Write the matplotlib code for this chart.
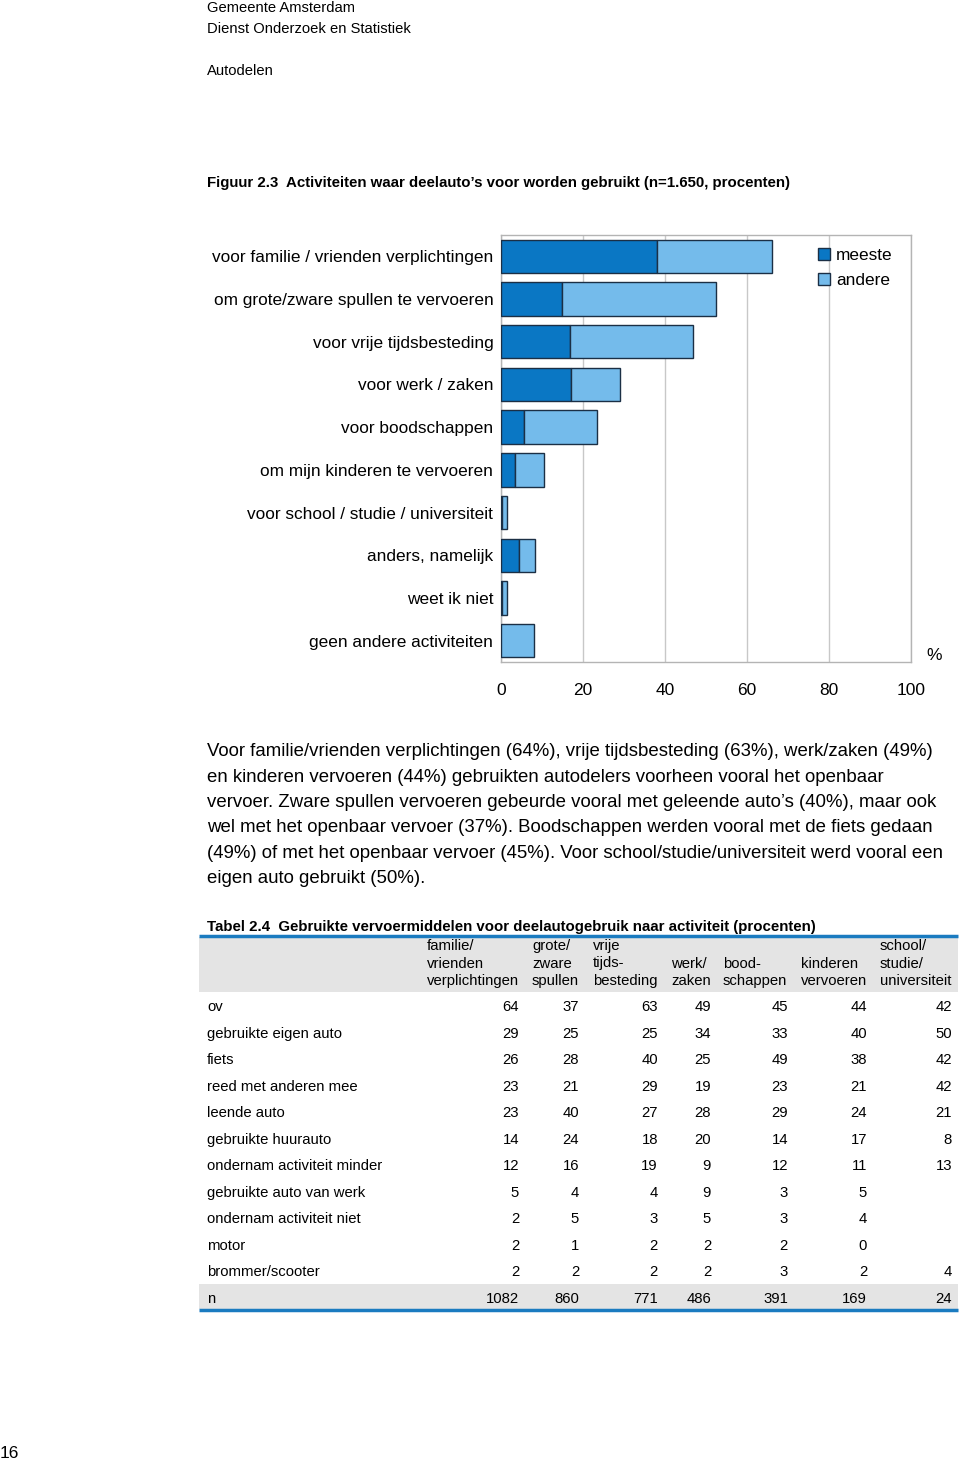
import matplotlib
matplotlib.use("Agg")
import matplotlib.pyplot as plt
from matplotlib.patches import Patch

plt.rcParams['font.family'] = ['Liberation Sans', 'DejaVu Sans']

# --- data figuur 2.3 ---
activiteiten = [
    "voor familie / vrienden verplichtingen",
    "om grote/zware spullen te vervoeren",
    "voor vrije tijdsbesteding",
    "voor werk / zaken",
    "voor boodschappen",
    "om mijn kinderen te vervoeren",
    "voor school / studie / universiteit",
    "anders, namelijk",
    "weet ik niet",
    "geen andere activiteiten",
]
meeste = [38, 14.8, 16.8, 17, 5.5, 3.5, 0.3, 4.3, 0.3, 0]
andere = [28, 37.7, 30, 12, 18, 7, 1.2, 4.1, 1.2, 8]
x_ticks = [0, 20, 40, 60, 80, 100]

# --- data tabel 2.4 ---
kolom_koppen = [
    ["familie/", "vrienden", "verplichtingen"],
    ["grote/", "zware", "spullen"],
    ["vrije", "tijds-", "besteding"],
    ["", "werk/", "zaken"],
    ["", "bood-", "schappen"],
    ["", "kinderen", "vervoeren"],
    ["school/", "studie/", "universiteit"],
]
rij_labels = [
    "ov", "gebruikte eigen auto", "fiets", "reed met anderen mee", "leende auto",
    "gebruikte huurauto", "ondernam activiteit minder", "gebruikte auto van werk",
    "ondernam activiteit niet", "motor", "brommer/scooter", "n",
]
tabel = [
    [64, 37, 63, 49, 45, 44, 42],
    [29, 25, 25, 34, 33, 40, 50],
    [26, 28, 40, 25, 49, 38, 42],
    [23, 21, 29, 19, 23, 21, 42],
    [23, 40, 27, 28, 29, 24, 21],
    [14, 24, 18, 20, 14, 17, 8],
    [12, 16, 19, 9, 12, 11, 13],
    [5, 4, 4, 9, 3, 5, None],
    [2, 5, 3, 5, 3, 4, None],
    [2, 1, 2, 2, 2, 0, None],
    [2, 2, 2, 2, 3, 2, 4],
    [1082, 860, 771, 486, 391, 169, 24],
]

tekst = [
    "Voor familie/vrienden verplichtingen (64%), vrije tijdsbesteding (63%), werk/zaken (49%)",
    "en kinderen vervoeren (44%) gebruikten autodelers voorheen vooral het openbaar",
    "vervoer. Zware spullen vervoeren gebeurde vooral met geleende auto\u2019s (40%), maar ook",
    "wel met het openbaar vervoer (37%). Boodschappen werden vooral met de fiets gedaan",
    "(49%) of met het openbaar vervoer (45%). Voor school/studie/universiteit werd vooral een",
    "eigen auto gebruikt (50%).",
]

W, H = 960, 1461
fig = plt.figure(figsize=(W / 100, H / 100), dpi=100)

# pagina-laag in pixelcoordinaten
pg = fig.add_axes([0, 0, 1, 1])
pg.set_xlim(0, W)
pg.set_ylim(H, 0)
pg.axis('off')

pg.text(207, 8, "Gemeente Amsterdam", fontsize=10.6, va='center')
pg.text(207, 29, "Dienst Onderzoek en Statistiek", fontsize=10.6, va='center')
pg.text(207, 71, "Autodelen", fontsize=10.6, va='center')
pg.text(207, 183, "Figuur 2.3  Activiteiten waar deelauto\u2019s voor worden gebruikt (n=1.650, procenten)",
        fontsize=10.8, fontweight='bold', va='center')

for i, regel in enumerate(tekst):
    pg.text(207, 752 + i * 25.3, regel, fontsize=13.4, va='center')

# tabel
pg.text(207, 927, "Tabel 2.4  Gebruikte vervoermiddelen voor deelautogebruik naar activiteit (procenten)",
        fontsize=10.8, fontweight='bold', va='center')
pg.fill_between([199, 958], 937, 992, color='#e4e4e4', lw=0)
pg.plot([199, 958], [936, 936], color='#1a7bc0', lw=2.5, solid_capstyle='butt')
kop_x = [427, 532, 593, 671, 723, 801, 880]
waarde_x = [519, 579, 658, 711, 788, 867, 952]
for kx, kop in zip(kop_x, kolom_koppen):
    for j, r in enumerate(kop):
        pg.text(kx, 946 + j * 17.5, r, fontsize=10.7, va='center')

rij_y0, rij_dy = 1007, 26.55
pg.fill_between([199, 958], 1284, 1309, color='#e4e4e4', lw=0)
pg.plot([199, 958], [1310, 1310], color='#1a7bc0', lw=2.5, solid_capstyle='butt')
for i, (lab, rij) in enumerate(zip(rij_labels, tabel)):
    y = rij_y0 + i * rij_dy
    pg.text(207, y, lab, fontsize=10.7, va='center')
    for vx, v in zip(waarde_x, rij):
        if v is not None:
            pg.text(vx, y, str(v), fontsize=10.7, va='center', ha='right')

pg.text(934, 655, "%", fontsize=12.5, va='center', ha='center')
pg.text(0, 1453, "16", fontsize=12.5, va='center')

# staafdiagram
ax = fig.add_axes([501 / W, 1 - 662 / H, 410 / W, 427 / H])
y = list(range(len(activiteiten)))
kleur_meeste = '#0a77c4'
kleur_andere = '#74bbeb'
rand = '#1b2f45'
ax.barh(y, meeste, height=0.78, color=kleur_meeste, edgecolor=rand, lw=1, zorder=3)
ax.barh(y, andere, left=meeste, height=0.78, color=kleur_andere, edgecolor=rand, lw=1, zorder=3)
ax.set_ylim(9.5, -0.5)
ax.set_xlim(0, 100)
ax.set_xticks(x_ticks)
ax.set_xticklabels([str(t) for t in x_ticks], fontsize=12.5)
ax.set_yticks(y)
ax.set_yticklabels(activiteiten, fontsize=12.4)
ax.tick_params(axis='both', length=0)
ax.tick_params(axis='x', pad=15)
ax.tick_params(axis='y', pad=5.5)
ax.grid(axis='x', color='#c8c8c8', lw=1, zorder=0)
for s in ax.spines.values():
    s.set_color('#b4b4b4')
    s.set_linewidth(1)

handles = [Patch(facecolor=kleur_meeste, edgecolor=rand, lw=1, label='meeste'),
           Patch(facecolor=kleur_andere, edgecolor=rand, lw=1, label='andere')]
ax.legend(handles=handles, loc='upper left', bbox_to_anchor=(818 / W, 1 - 248 / H),
          bbox_transform=fig.transFigure, frameon=False, fontsize=12.4,
          handlelength=0.7, handleheight=0.7, handletextpad=0.35,
          labelspacing=0.55, borderpad=0, borderaxespad=0)

fig.savefig("out.png", dpi=100)
